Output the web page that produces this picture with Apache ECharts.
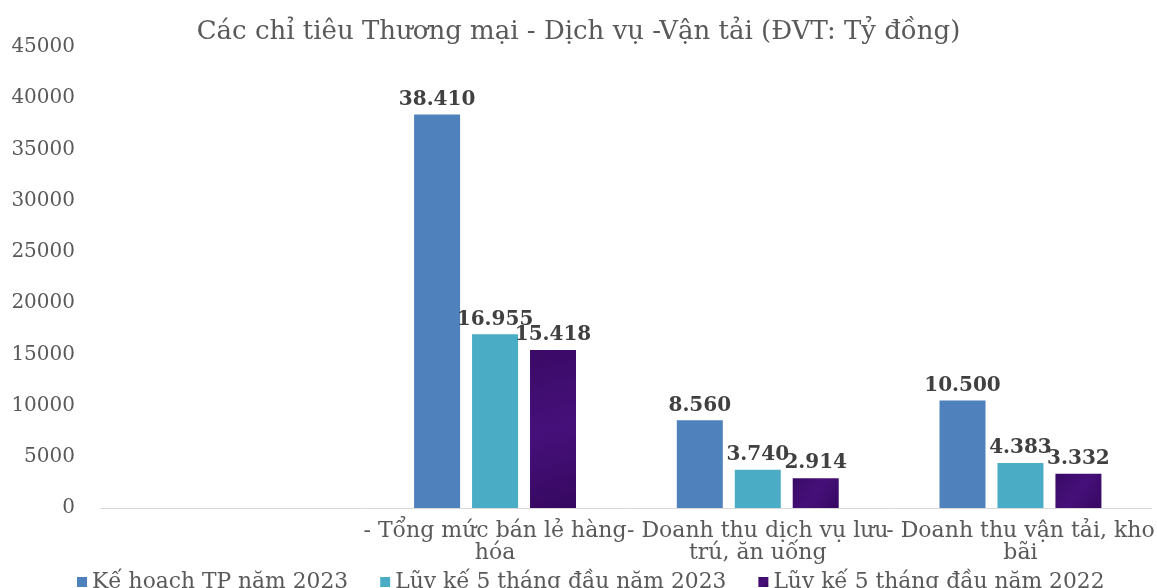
<!DOCTYPE html>
<html>
<head>
<meta charset="utf-8">
<script src="https://cdn.jsdelivr.net/npm/echarts@6/dist/echarts.min.js"></script>
<style>html,body{margin:0;padding:0;background:#fff}#c{width:1157px;height:588px}</style>
</head>
<body>
<div id="c"></div>
<script>
const titleText = 'Các chỉ tiêu Thương mại - Dịch vụ -Vận tải (ĐVT: Tỷ đồng)';
const categories = ['', '- Tổng mức bán lẻ hàng\nhóa', '- Doanh thu dịch vụ lưu\ntrú, ăn uống', '- Doanh thu vận tải, kho\nbãi'];
const seriesNames = ['Kế hoạch TP năm 2023', 'Lũy kế 5 tháng đầu năm 2023', 'Lũy kế 5 tháng đầu năm 2022'];
const keHoach2023 = [null, 38410, 8560, 10500];
const luyKe2023 = [null, 16955, 3740, 4383];
const luyKe2022 = [null, 15418, 2914, 3332];
const colors = ['#4f81bd', '#4bacc6', '#3f0f6e'];

const font = '"DejaVu Serif", "Liberation Serif", serif';
function fmt(v){ return String(v).replace(/\B(?=(\d{3})+(?!\d))/g, '.'); }
const chart = echarts.init(document.getElementById('c'));
const purpleFill = {
  type: 'linear', x: 0, y: 0, x2: 1, y2: 1,
  colorStops: [
    {offset: 0, color: '#3a0a66'},
    {offset: 0.5, color: '#46107a'},
    {offset: 1, color: '#360860'}
  ]
};
function mk(name, data, color, fill){
  return {
    name, type: 'bar', data,
    barWidth: 46, barGap: '26%',
    itemStyle: {color: fill || color},
    label: {show: true, position: 'top', distance: 5, fontFamily: font, fontWeight: 'bold', fontSize: 20, color: '#404040', formatter: p => fmt(p.value)}
  };
}
chart.setOption({
  animation: false,
  color: colors,
  title: {text: titleText, left: 'center', top: 14, textStyle: {fontFamily: font, fontWeight: 'normal', fontSize: 26, color: '#595959'}},
  grid: {left: 101, right: 0, top: 47, bottom: 80},
  legend: {left: 72, top: 566, itemWidth: 10, itemHeight: 10, itemGap: 32, icon: 'rect',
    textStyle: {fontFamily: font, fontSize: 21.8, color: '#595959'}, data: seriesNames},
  xAxis: {type: 'category', data: categories,
    axisLine: {lineStyle: {color: '#d9d9d9', width: 1}}, axisTick: {show: false},
    axisLabel: {fontFamily: font, fontSize: 22, color: '#595959', lineHeight: 22, margin: 12, interval: 0}},
  yAxis: {type: 'value', min: 0, max: 45000, interval: 5000,
    splitLine: {show: false}, axisLine: {show: false}, axisTick: {show: false},
    axisLabel: {fontFamily: font, fontSize: 20, color: '#595959', margin: 26, formatter: v => String(v)}},
  series: [
    mk(seriesNames[0], keHoach2023, colors[0]),
    mk(seriesNames[1], luyKe2023, colors[1]),
    mk(seriesNames[2], luyKe2022, colors[2], purpleFill)
  ]
});
</script>
</body>
</html>
